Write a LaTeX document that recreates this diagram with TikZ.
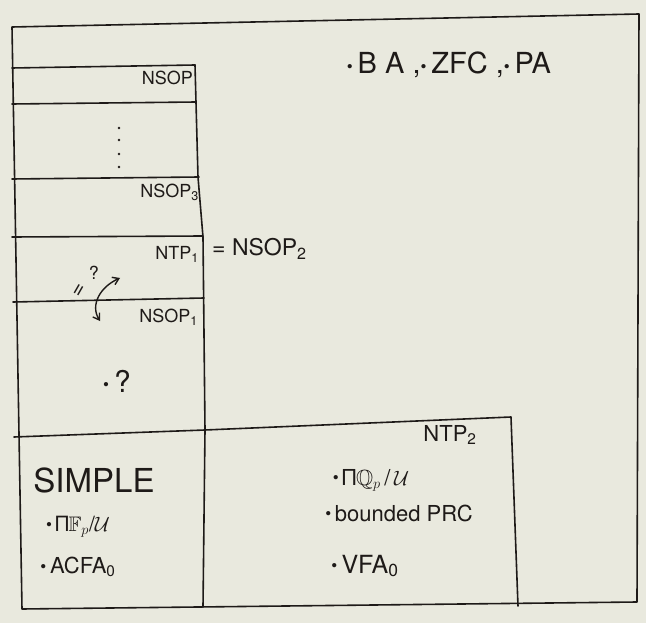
\documentclass[tikz,border=0pt]{standalone}
\usepackage{fontspec}
\usepackage{amssymb}
\setmainfont{TeX Gyre Heros}
\usetikzlibrary{arrows.meta}
\definecolor{paper}{RGB}{233,233,222}
\definecolor{ink}{RGB}{30,26,24}
\newcommand{\fs}[1]{\fontsize{#1}{#1}\selectfont}
\newcommand{\bul}{\raisebox{0.1ex}{\fs{17}\textbullet}\,}
\begin{document}
\begin{tikzpicture}[x=1pt,y=-1pt,
  rule/.style={draw=ink, line width=1.6pt, line join=round, line cap=round},
  lbl/.style={text=ink, inner sep=0pt, font=\fs{18}},
  big/.style={text=ink, inner sep=0pt, font=\fs{23}},
  mid/.style={text=ink, inner sep=0pt, font=\fs{22}}]
\fill[paper] (0,0) rectangle (646,623);
\useasboundingbox (0,0) rectangle (646,623);
% outer frame
\draw[rule] (12,27) -- (639,14) -- (637,602) -- (22,609) -- cycle;
% left column right edge
\draw[rule] (195,65) -- (198,177) -- (203,237) -- (205,430) -- (203,607);
% horizontal rules of the left column
\draw[rule] (12,68) -- (195,65);
\draw[rule] (12,104) -- (196,102);
\draw[rule] (12,179) -- (199,177);
\draw[rule] (12,237) -- (203,236);
\draw[rule] (13,302) -- (204,298);
\draw[rule] (14,437) -- (205,430);
% NTP2 box
\draw[rule] (205,430) -- (511,417) -- (518,606);
% labels in left column
\node[lbl, anchor=east] (nsop) at (193,78) {NSOP};
\foreach \yy in {128,140,154,167} \fill[ink] (119,\yy) circle (1.3pt);
\node[lbl, anchor=east] (nsop3) at (199,192) {NSOP\textsubscript{3}};
\node[lbl, anchor=east] (ntp1) at (199,254) {NTP\textsubscript{1}};
\node[big, anchor=west] (eqnsop2) at (212,249) {= NSOP\textsubscript{2}};
\node[lbl, anchor=east] (nsop1) at (198,317) {NSOP\textsubscript{1}};
% question and two-way arrow
\node[text=ink, inner sep=0pt, font=\fs{18}] (qm) at (94,273) {?};
\node[text=ink, inner sep=0pt, font=\fs{22}, rotate=60] (eqrot) at (80,291) {=};
\coordinate (arrA) at (100,321);
\coordinate (arrB) at (120,278);
\draw[ink, line width=1.4pt, {Straight Barb[length=6pt,width=8pt]}-{Straight Barb[length=6pt,width=8pt]}]
  (arrA) .. controls (90,305) and (100,287) .. (arrB);
\node[text=ink, inner sep=0pt, font=\fs{30}] (unk) at (117,381) {\bul ?};
% SIMPLE box
\node[text=ink, inner sep=0pt, font=\fs{33}] (simple) at (94,480) {SIMPLE};
\node[text=ink, inner sep=0pt, font=\fs{21}] (pifp) at (78,527) {\bul Π$\mathbb{F}_p$/$\mathcal{U}$};
\node[mid] (acfa) at (78,567) {\bul ACFA\textsubscript{0}};
% NTP2 box
\node[mid] (ntp2) at (450,435) {NTP\textsubscript{2}};
\node[text=ink, inner sep=0pt, font=\fs{22}] (piqp) at (371,480) {\bul Π$\mathbb{Q}_p$\,/\,$\mathcal{U}$};
\node[mid] (bprc) at (399,513) {\bul bounded PRC};
\node[text=ink, inner sep=0pt, font=\fs{25}] (vfa) at (365,566) {\bul VFA\textsubscript{0}};
% top right
\node[text=ink, inner sep=0pt, font=\fs{29}] (theories) at (449,65) {\bul B A\ ,\bul ZFC ,\bul PA};
\end{tikzpicture}
\end{document}
